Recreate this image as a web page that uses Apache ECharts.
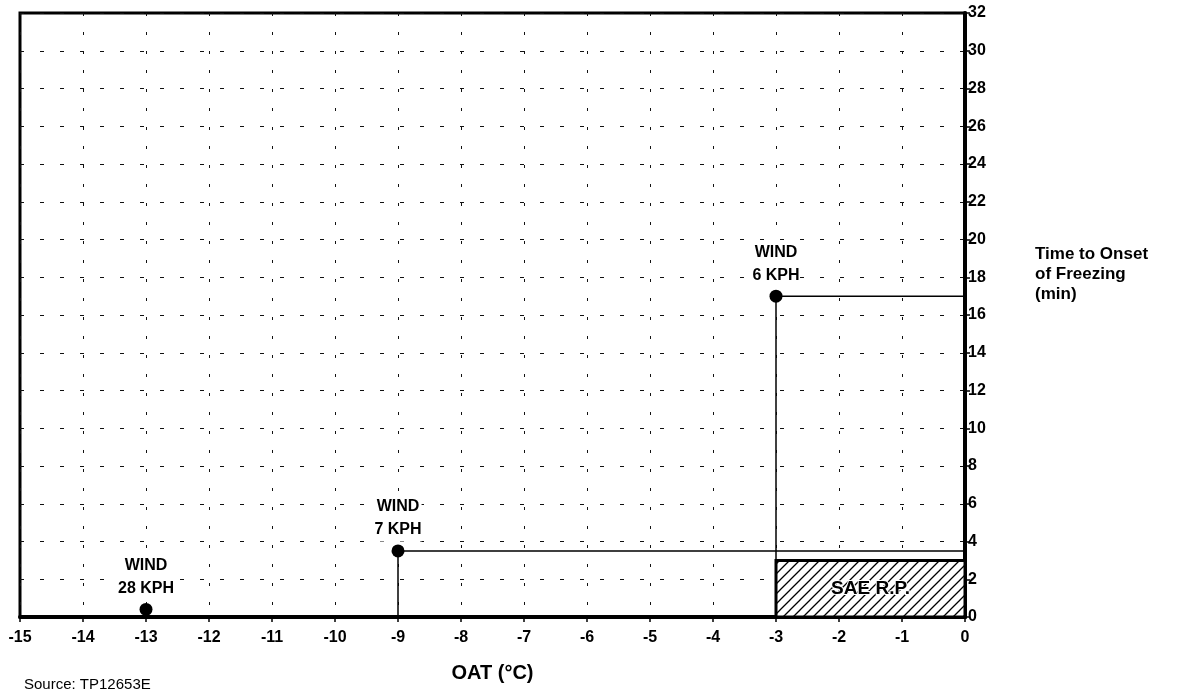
<!DOCTYPE html>
<html>
<head>
<meta charset="utf-8">
<script src="https://cdn.jsdelivr.net/npm/echarts@6/dist/echarts.min.js"></script>
<style>
  html, body { margin: 0; padding: 0; background: #fff; }
  #main { width: 1184px; height: 696px; }
</style>
</head>
<body>
<div id="main"></div>
<script>
// data
const windLabels = ['WIND\n28 KPH', 'WIND\n7 KPH', 'WIND\n6 KPH']
const oat = [-13, -9, -3]
const onsetTime = [0.4, 3.5, 17]
// SAE R.P. box: x from, x to, y from, y to
const saeBox = [-3, 0, 0, 3]
const xTicks = { min: -15, max: 0, step: 1 }
const yTicks = { min: 0, max: 32, step: 2 }

const FONT = '"Liberation Sans", Arial, sans-serif'

// hatch pattern for the SAE box
function hatch() {
  const s = 10
  const c = document.createElement('canvas')
  c.width = s
  c.height = s
  const ctx = c.getContext('2d')
  ctx.fillStyle = '#fff'
  ctx.fillRect(0, 0, s, s)
  ctx.strokeStyle = '#000'
  ctx.lineWidth = 1.3
  ctx.beginPath()
  ctx.moveTo(-1, s + 1); ctx.lineTo(s + 1, -1)
  ctx.moveTo(-s / 2 - 1, s / 2 + 1); ctx.lineTo(s / 2 + 1, -s / 2 - 1)
  ctx.moveTo(s / 2 - 1, s * 1.5 + 1); ctx.lineTo(s * 1.5 + 1, s / 2 - 1)
  ctx.stroke()
  return c
}

// step lines: from the x axis up to the point, then across to the right edge
const stepSeries = []
for (let i = 1; i < oat.length; i++) {
  stepSeries.push({
    type: 'line',
    data: [[oat[i], 0], [oat[i], onsetTime[i]], [xTicks.max, onsetTime[i]]],
    showSymbol: false,
    silent: true,
    lineStyle: { color: '#000', width: 1.5 },
    z: 3
  })
}

let option = {
  animation: false,
  grid: {
    left: 20, right: 219, top: 13, bottom: 79,
    show: true, borderColor: '#000', borderWidth: 3, backgroundColor: 'transparent'
  },
  xAxis: {
    type: 'value',
    min: xTicks.min, max: xTicks.max, interval: xTicks.step,
    name: 'OAT (°C)',
    nameLocation: 'middle',
    nameGap: 46,
    nameTextStyle: { fontFamily: FONT, fontWeight: 'bold', fontSize: 20, color: '#000' },
    axisLine: { show: true, lineStyle: { color: '#000', width: 4 } },
    axisTick: { show: true, length: 5, lineStyle: { color: '#000', width: 1.5 } },
    axisLabel: { fontFamily: FONT, fontWeight: 'bold', fontSize: 16, color: '#000', margin: 13 },
    splitLine: { show: true, lineStyle: { color: '#111', width: 1, type: [3, 16] } }
  },
  yAxis: {
    type: 'value',
    position: 'right',
    min: yTicks.min, max: yTicks.max, interval: yTicks.step,
    axisLine: { show: true, lineStyle: { color: '#000', width: 4 } },
    axisTick: { show: true, length: 5, lineStyle: { color: '#000', width: 1.5 } },
    axisLabel: { fontFamily: FONT, fontWeight: 'bold', fontSize: 16, color: '#000', margin: 3 },
    splitLine: { show: true, lineStyle: { color: '#111', width: 1, type: [4, 16] } }
  },
  series: [
    {
      type: 'line',
      data: [],
      silent: true,
      markArea: {
        silent: true,
        itemStyle: {
          color: { image: hatch(), repeat: 'repeat' },
          borderColor: '#000',
          borderWidth: 3,
          opacity: 1
        },
        label: {
          show: true,
          position: 'inside',
          formatter: 'SAE R.P.',
          fontFamily: FONT, fontWeight: 'bold', fontSize: 19, color: '#000',
          textBorderColor: '#fff', textBorderWidth: 2
        },
        data: [[{ xAxis: saeBox[0], yAxis: saeBox[2] }, { xAxis: saeBox[1], yAxis: saeBox[3] }]]
      },
      z: 2
    },
    ...stepSeries,
    {
      type: 'scatter',
      data: oat.map((x, i) => ({ value: [x, onsetTime[i]], label: { formatter: windLabels[i] } })),
      symbolSize: 13,
      itemStyle: { color: '#000', opacity: 1 },
      label: {
        show: true,
        position: 'top',
        distance: 3,
        fontFamily: FONT, fontWeight: 'bold', fontSize: 16, lineHeight: 23, color: '#000',
        backgroundColor: '#fff'
      },
      z: 5
    }
  ],
  graphic: [
    {
      type: 'text', left: 1035, top: 244,
      style: {
        text: 'Time to Onset\nof Freezing\n(min)',
        font: 'bold 17px "Liberation Sans", Arial, sans-serif',
        lineHeight: 20, fill: '#000'
      }
    },
    {
      type: 'text', left: 24, top: 677,
      style: {
        text: 'Source: TP12653E',
        font: '15px "Liberation Sans", Arial, sans-serif',
        fill: '#000'
      }
    }
  ]
}

let myChart = echarts.init(document.getElementById('main'))
myChart.setOption(option)
</script>
</body>
</html>
